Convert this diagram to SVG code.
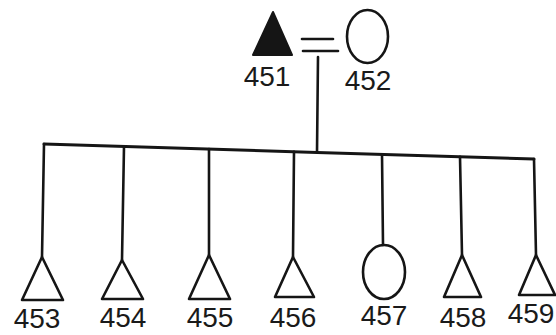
<svg xmlns="http://www.w3.org/2000/svg" width="556" height="335" viewBox="0 0 556 335">
<style>
.ln{stroke:#151515;stroke-width:2.6;fill:none;stroke-linecap:round;stroke-linejoin:round}
.sh{stroke:#151515;stroke-width:2.6;fill:none;stroke-linejoin:round}
.lb{font-family:"Liberation Sans",Arial,sans-serif;font-size:28px;fill:#1a1a1a;text-anchor:middle}
</style>
<rect width="556" height="335" fill="#ffffff"/>
<g id="connectors">
<line class="ln" x1="302" y1="39" x2="333" y2="39"/>
<line class="ln" x1="303" y1="51" x2="338" y2="51"/>
<line class="ln" x1="318" y1="57" x2="317" y2="152"/>
<path class="ln" d="M44,144 L317,152.4 L534,159" style="stroke-width:3"/>
<line class="ln" x1="44" y1="144" x2="42" y2="257"/>
<line class="ln" x1="124" y1="146.4" x2="122" y2="260"/>
<line class="ln" x1="209" y1="149" x2="209" y2="255"/>
<line class="ln" x1="294" y1="151.7" x2="293" y2="257"/>
<line class="ln" x1="382" y1="154.3" x2="383" y2="245"/>
<line class="ln" x1="460" y1="156.7" x2="462" y2="255"/>
<line class="ln" x1="534" y1="159" x2="536" y2="255"/>
</g>
<g id="n451">
<polygon points="273,12 292,55 253,55" fill="#151515" stroke="#151515" stroke-width="2" stroke-linejoin="round"/>
<text class="lb" x="267" y="86">451</text>
</g>
<g id="n452">
<ellipse class="sh" cx="367.5" cy="36.5" rx="20.5" ry="26.5"/>
<text class="lb" x="368" y="90">452</text>
</g>
<g id="n453">
<polygon class="sh" points="42,257 63,300 22,300"/>
<text class="lb" x="37" y="328">453</text>
</g>
<g id="n454">
<polygon class="sh" points="122,260 143,299 102,299"/>
<text class="lb" x="123" y="327">454</text>
</g>
<g id="n455">
<polygon class="sh" points="209,255 230,299 189,299"/>
<text class="lb" x="210" y="327">455</text>
</g>
<g id="n456">
<polygon class="sh" points="293,257 314,297 275,297"/>
<text class="lb" x="293" y="327">456</text>
</g>
<g id="n457">
<ellipse class="sh" cx="384" cy="272" rx="21" ry="27"/>
<text class="lb" x="384" y="325">457</text>
</g>
<g id="n458">
<polygon class="sh" points="462,255 481,297 444,297"/>
<text class="lb" x="463" y="327">458</text>
</g>
<g id="n459">
<polygon class="sh" points="536,255 555,295 519,295"/>
<text class="lb" x="531" y="323">459</text>
</g>
</svg>
